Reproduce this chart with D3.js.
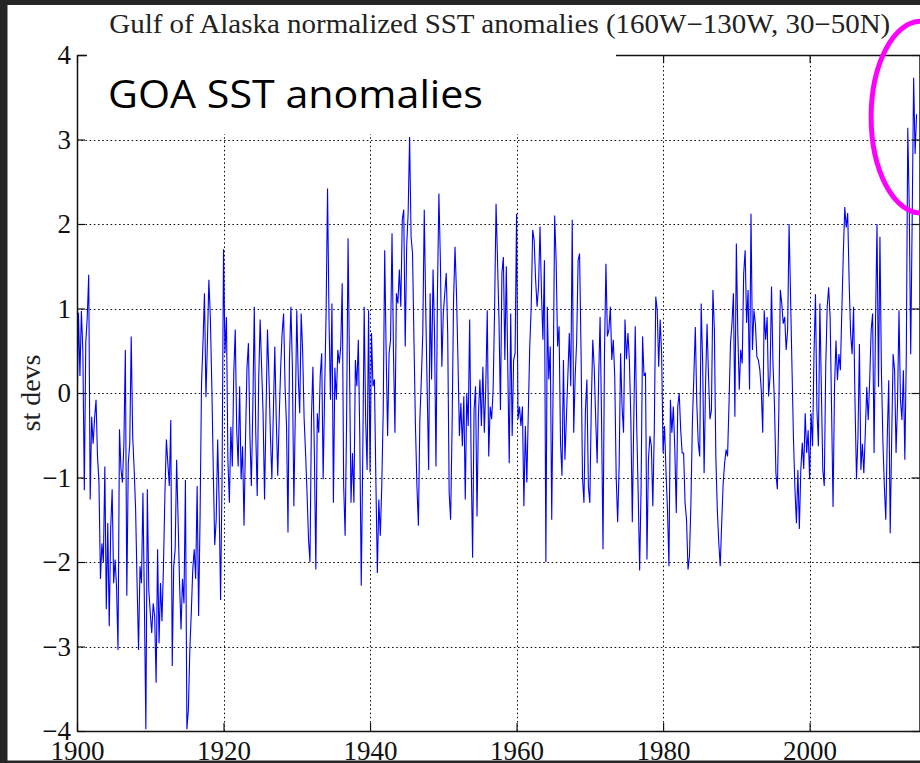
<!DOCTYPE html>
<html><head><meta charset="utf-8">
<script src="https://cdn.jsdelivr.net/npm/d3@7"></script>
<style>html,body{margin:0;padding:0;background:#fff;overflow:hidden;} svg{display:block;}</style>
</head><body>
<script>
// ---- data (normalized SST anomalies, 5 samples per year from 1900.0) ----
const startYear = 1900;
const samplesPerYear = 5;
const anomalies = [
-0.3,0.95,0.2,0.97,0.5,-1.15,0.6,0.9,1.4,-1.26,
-0.28,-0.6,-0.3,-0.08,-0.75,-1.06,-2.2,-1.78,-2.0,-0.87,
-2.56,-1.54,-2.76,-1.6,-1.14,-2.25,-1.97,-2.3,-3.04,-0.43,
-0.9,-1.06,-0.6,0.51,-2.4,-0.83,-0.6,0.67,-0.51,-0.9,
-1.38,-2.25,-3.04,-2.05,-2.25,-1.18,-2.49,-3.98,-1.14,-2.33,
-2.6,-2.84,-2.49,-2.64,-3.43,-1.85,-2.96,-2.25,-2.7,-2.05,
-1.2,-0.55,-0.83,-1.1,-0.32,-3.23,-2.05,-1.85,-0.79,-1.5,
-2.25,-2.8,-2.2,-2.49,-1.03,-3.98,-3.75,-3.04,-2.6,-2.09,
-1.85,-2.2,-1.1,-2.64,-1.46,0.12,0.6,1.18,
-0.05,0.6,1.34,0.9,0.1,-0.9,-1.8,-1.5,-0.55,-1.3,
-2.45,-1.0,1.7,0.47,0.9,-0.8,-1.3,-0.4,-0.87,0.24,
0.75,-0.43,-0.87,0.08,-1.02,-0.63,-1.57,-0.55,0.3,0.59,
-0.5,-1.1,-0.16,1.02,-0.47,-1.22,0.16,0.87,0.3,-0.24,
-1.26,-0.24,0.75,0.2,-0.5,-1.02,-0.24,0.55,-0.31,-0.98,
-0.3,0.3,0.71,0.94,0.08,-0.39,-1.65,0.4,1.02,0.31,
-1.34,-0.24,0.98,0.2,-0.24,0.94,0.5,-0.3,-0.71,-1.18,
-1.73,-2.0,-0.3,0.31,-0.71,-2.09,-0.24,-0.47,0.2,0.47,
-1.02,0,
0.94,2.42,0.87,-0.08,1.06,-1.3,0.3,-0.08,0.51,0.35,
0.55,1.3,-1.1,-1.69,-0.31,1.83,0.3,-1.3,-0.71,-1.3,
0.39,0.08,0.63,-0.51,-2.28,-0.8,1.02,-0.31,-0.91,0.98,
-0.94,0.71,0.08,0.16,-1.06,-2.13,-1.26,-1.69,-1.1,-0.2,
1.69,0.47,-0.51,0.47,0.63,1.89,0.47,-0.47,1.18,1.06,
1.46,1.02,2.05,2.17,0.55,1.73,2.13,3.03,1.85,1.65,
0.6,-0.4,-1.1,-1.57,-0.31,0.16,0.71,2.17,1.0,0.04,
-0.91,1.18,0.16,1.46,0.71,-0.87,1.18,2.36,1.57,0.31,
0.94,
1.18,1.42,0.71,-1.18,-1.5,-0.39,1.1,1.73,1.18,0.39,
-0.51,-0.12,-0.63,-0.04,-1.26,0,-0.39,0.87,-0.79,-1.95,
-0.2,0.08,-1.46,-0.24,0.16,-0.39,0.31,-0.47,0.08,0.98,
-0.75,-0.16,-0.31,0.04,0.98,2.24,1.57,0.87,-0.2,1.42,
1.61,0.39,1.5,0.31,-0.83,0.94,-0.51,0.39,0.47,2.12,
-0.31,-0.16,-0.39,-0.16,-1.34,-0.39,-1.06,-0.24,0.55,1.02,
1.93,1.81,1.34,1.02,1.26,1.97,1.18,0.63,1.57,-2.0,
1.02,0.16,0.55,-1.5,0.16,2.1,1.57,0.55,0.79,-0.59,
-0.98,0.39,
-0.79,-0.3,0.2,0.71,0.08,2.05,-0.47,0.2,0.6,1.57,
1.65,0.5,-1.0,-1.3,-0.2,0.16,-1.1,-1.3,-0.16,0.63,
0.3,-0.3,-0.83,0.16,0.9,-0.31,-1.85,0.47,1.53,0.67,
0.75,1.02,0.39,0.63,0.2,-1.0,-1.53,-0.87,0.47,-0.16,
-0.47,0.87,0.4,0.71,0.39,-0.31,-1.53,-0.31,0.79,-0.39,
-1.18,-2.1,-1.1,0.67,0.2,0.24,-1.97,-0.79,-0.51,-0.63,
-1.34,-0.43,1.14,0.98,0.31,0.87,0.47,-0.71,-0.39,-0.94,
-1.38,-2.05,-0.08,-0.47,-0.16,-0.67,-1.42,-0.16,0,-0.43,
-0.71,
-0.71,-1.3,-1.5,-2.09,-1.93,-1.3,-0.35,0.2,0.78,-0.12,
-0.59,-0.75,1.06,0.35,-0.95,0.12,0.82,0.2,-0.31,-0.2,
1.22,0.75,-0.75,-1.38,-1.77,-2.05,-1.54,-1.07,-0.83,-0.67,
-0.75,-0.12,0.59,0.82,1.18,-0.28,1.77,0.71,0.04,0.51,
0.35,1.41,1.69,0.83,1.22,0.04,2.12,0.51,0.98,0.82,
0.43,0.39,0.28,0.04,-0.47,0.98,0.63,0.9,-0.04,0.2,
1.26,0.35,-0.12,-0.95,-1.14,-0.2,1.22,1.06,0.82,0.9,
0.51,0.75,2.0,1.14,0.28,-0.55,-1.14,-1.54,-0.91,-1.61,
-0.91,-0.59,
-0.9,-0.24,-0.71,-0.44,-1.02,-0.24,-0.63,0.46,1.17,-0.2,
-0.63,1.06,0.07,-0.91,-1.1,0.31,1.02,1.25,0.9,-0.2,
-1.35,0.07,0.62,0.15,0.46,0.27,0.98,1.65,2.2,1.96,
2.13,1.3,0.7,0.46,1.02,-0.12,-1.02,-0.52,0.58,-0.91,
-0.6,-0.95,-0.48,0.07,-0.32,0.15,0.74,0.94,-0.71,0.86,
2.0,0.07,1.85,0.27,-0.56,-1.1,-1.5,-0.52,0.15,-1.66,
-0.56,0.46,0.27,-0.71,-0.12,0.98,-0.08,-0.32,0.27,-0.79,
0.46,3.14,2.2,0.46,2.05,3.73,2.83,3.3
];
const xDomain = [1900, 2015];
const yDomain = [-4, 4];
const xTicks = [1900, 1920, 1940, 1960, 1980, 2000];
const yTicks = [-4, -3, -2, -1, 0, 1, 2, 3, 4];
const titleText = "Gulf of Alaska normalized SST anomalies (160W\u2212130W, 30\u221250N)";
const overlayText = "GOA SST anomalies";
const yLabelText = "st devs";
// highlighted recent period (year range / value range of the ellipse)
const highlightYears = [2008.4, 2022.0];
const highlightValues = [2.13, 4.40];

// ---- drawing ----
const W = 920, H = 763;
const svg = d3.select("body").append("svg").attr("width", W).attr("height", H);
svg.append("rect").attr("width", W).attr("height", H).attr("fill", "#fff");

const x = d3.scaleLinear().domain(xDomain).range([77, 919.5]);
const y = d3.scaleLinear().domain(yDomain).range([731, 55]);
const serif = "'Liberation Serif','Times New Roman',serif";
const fmt = d => d < 0 ? "\u2212" + Math.abs(d) : String(d);

// grid
const grid = svg.append("g").attr("stroke", "#111").attr("stroke-width", 1)
  .attr("stroke-dasharray", "1.6,2.6");
grid.selectAll("line.h").data(yTicks.filter(d => d > yDomain[0] && d < yDomain[1]))
  .join("line").attr("class", "h")
  .attr("x1", x(xDomain[0])).attr("x2", x(xDomain[1]))
  .attr("y1", d => Math.round(y(d)) + 0.5).attr("y2", d => Math.round(y(d)) + 0.5);
grid.selectAll("line.v").data(xTicks.filter(d => d > xDomain[0]))
  .join("line").attr("class", "v")
  .attr("y1", y(yDomain[0])).attr("y2", y(yDomain[1]))
  .attr("x1", d => Math.round(x(d)) + 0.5).attr("x2", d => Math.round(x(d)) + 0.5);

// data line
svg.append("clipPath").attr("id", "plot").append("rect")
  .attr("x", x(xDomain[0])).attr("y", y(yDomain[1]))
  .attr("width", x(xDomain[1]) - x(xDomain[0])).attr("height", y(yDomain[0]) - y(yDomain[1]));
const line = d3.line()
  .x((d, i) => x(startYear + i / samplesPerYear))
  .y(d => y(d));
svg.append("path").datum(anomalies)
  .attr("clip-path", "url(#plot)")
  .attr("fill", "none").attr("stroke", "#0000ff").attr("stroke-width", 1.1)
  .attr("stroke-linejoin", "miter").attr("d", line);

// axes (ticks inward on all four sides)
function styleAxis(g) {
  g.selectAll("path.domain").attr("stroke", "#111").attr("stroke-width", 1.5);
  g.selectAll(".tick line").attr("stroke", "#111").attr("stroke-width", 1.2);
  g.selectAll("text").attr("font-family", serif).attr("font-size", 27).attr("fill", "#111");
}
svg.append("g").attr("transform", `translate(0,${y(yDomain[0])})`)
  .call(d3.axisBottom(x).tickValues(xTicks).tickFormat(fmt).tickSizeInner(-8).tickSizeOuter(0).tickPadding(10))
  .call(styleAxis);
svg.append("g").attr("transform", `translate(0,${y(yDomain[1])})`)
  .call(d3.axisTop(x).tickValues(xTicks).tickFormat("").tickSizeInner(-8).tickSizeOuter(0))
  .call(styleAxis);
svg.append("g").attr("transform", `translate(${x(xDomain[0])},0)`)
  .call(d3.axisLeft(y).tickValues(yTicks).tickFormat(fmt).tickSizeInner(-8).tickSizeOuter(0).tickPadding(6))
  .call(styleAxis);
svg.append("g").attr("transform", `translate(${x(xDomain[1])},0)`)
  .call(d3.axisRight(y).tickValues(yTicks).tickFormat("").tickSizeInner(-8).tickSizeOuter(0))
  .call(styleAxis);

// white text box over the upper-left of the plot
svg.append("rect").attr("x", 87).attr("y", 42).attr("width", 529).attr("height", 92).attr("fill", "#fff");
svg.append("text").attr("x", 108).attr("y", 108)
  .attr("font-family", "'Open Sans','Noto Sans',sans-serif").attr("font-size", 39)
  .attr("textLength", 375).attr("lengthAdjust", "spacingAndGlyphs")
  .attr("fill", "#000").text(overlayText);

// title
svg.append("text").attr("x", (x(xDomain[0]) + x(xDomain[1])) / 2 + 1.5).attr("y", 33)
  .attr("text-anchor", "middle").attr("font-family", serif).attr("font-size", 27)
  .attr("textLength", 781).attr("lengthAdjust", "spacingAndGlyphs")
  .attr("fill", "#222").text(titleText);

// y label
svg.append("text").attr("transform", `translate(40,${y(0)}) rotate(-90)`)
  .attr("text-anchor", "middle").attr("font-family", serif).attr("font-size", 28)
  .attr("fill", "#222").text(yLabelText);

// magenta highlight ellipse
const cx = x((highlightYears[0] + highlightYears[1]) / 2);
const cy = y((highlightValues[0] + highlightValues[1]) / 2);
svg.append("ellipse").attr("cx", cx).attr("cy", cy)
  .attr("rx", (x(highlightYears[1]) - x(highlightYears[0])) / 2)
  .attr("ry", (y(highlightValues[0]) - y(highlightValues[1])) / 2)
  .attr("fill", "none").attr("stroke", "#ff00ff").attr("stroke-width", 5);

// dark slide frame
const frame = svg.append("g").attr("fill", "#262626");
frame.append("rect").attr("x", 0).attr("y", 0).attr("width", W).attr("height", 5);
frame.append("rect").attr("x", 0).attr("y", 0).attr("width", 7.5).attr("height", H);
frame.append("rect").attr("x", 0).attr("y", 760.5).attr("width", W).attr("height", H - 760.5);
</script>
</body></html>
